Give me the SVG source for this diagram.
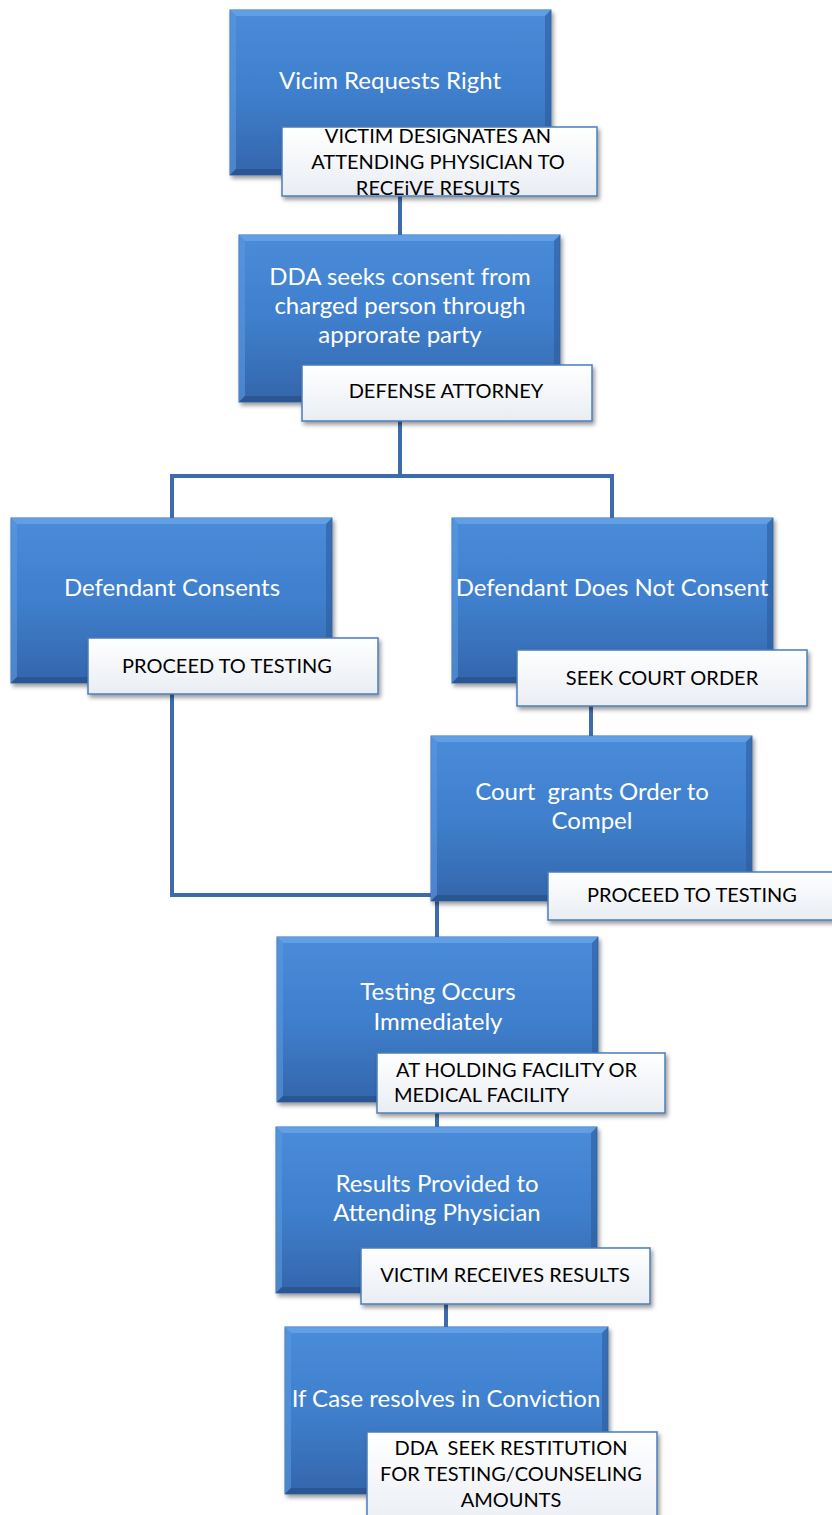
<svg xmlns="http://www.w3.org/2000/svg" width="832" height="1515" viewBox="0 0 832 1515">
<defs>
<linearGradient id="blueGrad" x1="0" y1="0" x2="0" y2="1">
<stop offset="0" stop-color="#4a8cd9"/>
<stop offset="0.5" stop-color="#3f7fcd"/>
<stop offset="1" stop-color="#3466ab"/>
</linearGradient>
<linearGradient id="labelGrad" x1="0" y1="0" x2="0" y2="1">
<stop offset="0" stop-color="#ffffff"/>
<stop offset="1" stop-color="#e9edf3"/>
</linearGradient>
<filter id="shadow" x="-10%" y="-10%" width="125%" height="130%">
<feDropShadow dx="2" dy="3" stdDeviation="2" flood-color="#000" flood-opacity="0.4"/>
</filter>
</defs>
<style>
.box{fill:url(#blueGrad);stroke:#3a6db0;stroke-width:1;filter:url(#shadow)}
.bevT{fill:#6aa6ea;opacity:0.75}
.bevL{fill:#5a97df;opacity:0.6}
.bevR{fill:#2d5b9b;opacity:0.6}
.bevB{fill:#284f88;opacity:0.7}
.lbl{fill:url(#labelGrad);stroke:#4a7ebb;stroke-width:1.5;filter:url(#shadow)}
.bt{font-family:Lato,"Liberation Sans",sans-serif;font-size:24px;fill:#ffffff;text-anchor:middle;white-space:pre}
.lt{font-family:Lato,"Liberation Sans",sans-serif;font-size:20px;fill:#000000;text-anchor:middle;white-space:pre}
.conn{fill:none;stroke:#3d6cae;stroke-width:4}
</style>

<g id="connectors">
<path class="conn" d="M400 196 V237"/>
<path class="conn" d="M400 421 V476 M172 476 H612 M172 474 V519 M612 474 V519"/>
<path class="conn" d="M591 706 V737"/>
<path class="conn" d="M172 694 V895 H437 V938"/>
<path class="conn" d="M437 1113 V1128"/>
<path class="conn" d="M446 1304 V1328"/>
</g>

<g id="n1">
<rect class="box" x="230" y="10" width="321" height="165"/>
<polygon class="bevT" points="230,10 551,10 545,16 236,16"/>
<polygon class="bevL" points="230,10 236,16 236,169 230,175"/>
<polygon class="bevR" points="551,10 551,175 545,169 545,16"/>
<polygon class="bevB" points="230,175 551,175 545,169 236,169"/>
<text class="bt" x="390" y="89">Vicim Requests Right</text>
</g>
<g id="l1">
<rect class="lbl" x="282" y="127" width="315" height="69"/>
<text class="lt" x="438" y="143">VICTIM DESIGNATES AN</text>
<text class="lt" x="438" y="169">ATTENDING PHYSICIAN TO</text>
<text class="lt" x="438" y="195">RECEiVE RESULTS</text>
</g>

<g id="n2">
<rect class="box" x="239" y="235" width="321" height="167"/>
<polygon class="bevT" points="239,235 560,235 554,241 245,241"/>
<polygon class="bevL" points="239,235 245,241 245,396 239,402"/>
<polygon class="bevR" points="560,235 560,402 554,396 554,241"/>
<polygon class="bevB" points="239,402 560,402 554,396 245,396"/>
<text class="bt" x="400" y="285">DDA seeks consent from</text>
<text class="bt" x="400" y="314">charged person through</text>
<text class="bt" x="400" y="343">approrate party</text>
</g>
<g id="l2">
<rect class="lbl" x="302" y="365" width="290" height="56"/>
<text class="lt" x="446" y="398">DEFENSE ATTORNEY</text>
</g>

<g id="n3">
<rect class="box" x="11" y="518" width="321" height="165"/>
<polygon class="bevT" points="11,518 332,518 326,524 17,524"/>
<polygon class="bevL" points="11,518 17,524 17,677 11,683"/>
<polygon class="bevR" points="332,518 332,683 326,677 326,524"/>
<polygon class="bevB" points="11,683 332,683 326,677 17,677"/>
<text class="bt" x="172" y="596">Defendant Consents</text>
</g>
<g id="l3">
<rect class="lbl" x="88" y="638" width="290" height="56"/>
<text class="lt" x="227" y="673">PROCEED TO TESTING</text>
</g>

<g id="n4">
<rect class="box" x="452" y="518" width="321" height="165"/>
<polygon class="bevT" points="452,518 773,518 767,524 458,524"/>
<polygon class="bevL" points="452,518 458,524 458,677 452,683"/>
<polygon class="bevR" points="773,518 773,683 767,677 767,524"/>
<polygon class="bevB" points="452,683 773,683 767,677 458,677"/>
<text class="bt" x="612" y="596">Defendant Does Not Consent</text>
</g>
<g id="l4">
<rect class="lbl" x="517" y="650" width="290" height="56"/>
<text class="lt" x="662" y="685">SEEK COURT ORDER</text>
</g>

<g id="n5">
<rect class="box" x="431" y="736" width="321" height="165"/>
<polygon class="bevT" points="431,736 752,736 746,742 437,742"/>
<polygon class="bevL" points="431,736 437,742 437,895 431,901"/>
<polygon class="bevR" points="752,736 752,901 746,895 746,742"/>
<polygon class="bevB" points="431,901 752,901 746,895 437,895"/>
<text class="bt" x="592" y="800">Court  grants Order to</text>
<text class="bt" x="592" y="829">Compel</text>
</g>
<g id="l5">
<rect class="lbl" x="548" y="872" width="290" height="48"/>
<text class="lt" x="692" y="902">PROCEED TO TESTING</text>
</g>

<g id="n6">
<rect class="box" x="277" y="937" width="321" height="165"/>
<polygon class="bevT" points="277,937 598,937 592,943 283,943"/>
<polygon class="bevL" points="277,937 283,943 283,1096 277,1102"/>
<polygon class="bevR" points="598,937 598,1102 592,1096 592,943"/>
<polygon class="bevB" points="277,1102 598,1102 592,1096 283,1096"/>
<text class="bt" x="438" y="1000">Testing Occurs</text>
<text class="bt" x="438" y="1030">Immediately</text>
</g>
<g id="l6">
<rect class="lbl" x="377" y="1053" width="288" height="60"/>
<text class="lt" x="396" y="1077" style="text-anchor:start">AT HOLDING FACILITY OR</text>
<text class="lt" x="394" y="1102" style="text-anchor:start">MEDICAL FACILITY</text>
</g>

<g id="n7">
<rect class="box" x="276" y="1127" width="321" height="166"/>
<polygon class="bevT" points="276,1127 597,1127 591,1133 282,1133"/>
<polygon class="bevL" points="276,1127 282,1133 282,1287 276,1293"/>
<polygon class="bevR" points="597,1127 597,1293 591,1287 591,1133"/>
<polygon class="bevB" points="276,1293 597,1293 591,1287 282,1287"/>
<text class="bt" x="437" y="1192">Results Provided to</text>
<text class="bt" x="437" y="1221">Attending Physician</text>
</g>
<g id="l7">
<rect class="lbl" x="361" y="1248" width="289" height="56"/>
<text class="lt" x="505" y="1282">VICTIM RECEIVES RESULTS</text>
</g>

<g id="n8">
<rect class="box" x="285" y="1327" width="323" height="167"/>
<polygon class="bevT" points="285,1327 608,1327 602,1333 291,1333"/>
<polygon class="bevL" points="285,1327 291,1333 291,1488 285,1494"/>
<polygon class="bevR" points="608,1327 608,1494 602,1488 602,1333"/>
<polygon class="bevB" points="285,1494 608,1494 602,1488 291,1488"/>
<text class="bt" x="446" y="1407">If Case resolves in Conviction</text>
</g>
<g id="l8">
<rect class="lbl" x="367" y="1432" width="290" height="100"/>
<text class="lt" x="511" y="1455">DDA  SEEK RESTITUTION</text>
<text class="lt" x="511" y="1481">FOR TESTING/COUNSELING</text>
<text class="lt" x="511" y="1507">AMOUNTS</text>
</g>
</svg>
